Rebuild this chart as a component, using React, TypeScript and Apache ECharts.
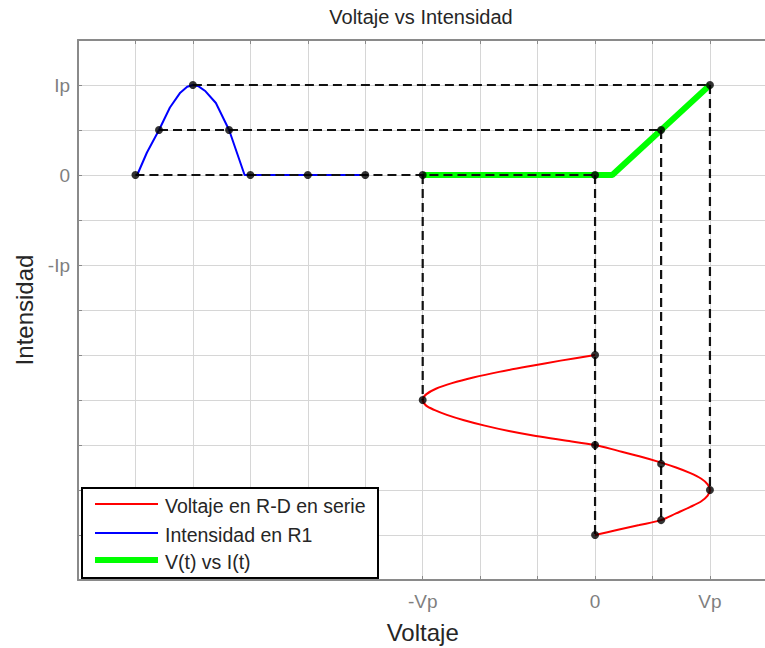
import React, { useEffect, useRef } from "react";
import * as echarts from "echarts";

const titleText = "Voltaje vs Intensidad";
const xAxisName = "Voltaje";
const yAxisName = "Intensidad";

const xTickPos = [6, 9, 11];
const xTickText = ["-Vp", "0", "Vp"];
const yTickPos = [7, 9, 11];
const yTickText = ["-Ip", "0", "Ip"];

// Red: Voltaje en R-D en serie (time runs downward)
const redX = [9, 8.4, 7.85, 7.33, 6.88, 6.51, 6.23, 6.06, 6.0, 6.06, 6.2, 6.42, 6.72, 7.08, 7.5, 7.97, 8.48, 9.0, 9.39, 9.77, 10.11, 10.41, 10.66, 10.85, 10.96, 11.0, 10.96, 10.85, 10.66, 10.41, 10.15, 9.77, 9.38, 9.0];
const redY = [5, 4.875, 4.75, 4.625, 4.5, 4.375, 4.25, 4.125, 4.0, 3.875, 3.78, 3.67, 3.55, 3.43, 3.31, 3.2, 3.1, 3.0, 2.875, 2.75, 2.625, 2.5, 2.375, 2.25, 2.125, 2.0, 1.875, 1.75, 1.625, 1.48, 1.33, 1.22, 1.11, 1.0];

// Blue: Intensidad en R1
const blueX = [1.03, 1.2, 1.41, 1.6, 1.78, 1.9, 2.0, 2.1, 2.22, 2.4, 2.63, 2.9, 3, 4, 5];
const blueY = [9, 9.5, 10, 10.5, 10.83, 10.96, 11, 10.97, 10.86, 10.6, 10, 9, 9, 9, 9];

// Green: V(t) vs I(t)
const greenX = [6, 9.3, 11];
const greenY = [9, 9, 11];

// Dashed guide segments [x1, y1, x2, y2]
const guideSegments = [
  [2, 11, 11, 11],
  [1.41, 10, 10.15, 10],
  [1, 9, 9, 9],
  [6, 9, 6, 4],
  [9, 9, 9, 1],
  [10.15, 10, 10.15, 1.33],
  [11, 11, 11, 2],
];

// Black markers
const dotX = [1, 1.41, 2, 2.63, 3, 4, 5, 6, 9, 10.15, 11, 9, 6, 9, 10.15, 11, 10.15, 9];
const dotY = [9, 10, 11, 10, 9, 9, 9, 9, 9, 10, 11, 5, 4, 3, 2.58, 2, 1.33, 1];

const legendNames = ["Voltaje en R-D en serie", "Intensidad en R1", "V(t) vs I(t)"];
const legendColors = ["#ff0000", "#0000ff", "#00ff00"];
const legendLineWidths = [2, 2, 6];

const zip = (xs: number[], ys: number[]) => xs.map((x, i) => [x, ys[i]]);

export default function App() {
  const ref = useRef<HTMLDivElement>(null);
  useEffect(() => {
    if (!ref.current) return;
    const chart = echarts.init(ref.current, undefined, { renderer: "svg" });
    const font = "'Liberation Sans', Arial, sans-serif";
    const gridLeft = 78, gridTop = 40, gridW = 689.4, gridH = 540;

    const xFmt = (v: number) => {
      const i = xTickPos.indexOf(Math.round(v));
      return i >= 0 && Math.abs(v - xTickPos[i]) < 1e-6 ? xTickText[i] : "";
    };
    const yFmt = (v: number) => {
      const i = yTickPos.indexOf(Math.round(v));
      return i >= 0 && Math.abs(v - yTickPos[i]) < 1e-6 ? yTickText[i] : "";
    };

    const axisLineStyle = { color: "#8a8a8a", width: 2 };
    const tickStyle = { show: true, inside: true, length: 4, lineStyle: { color: "#8a8a8a", width: 1 } };
    const splitStyle = { show: true, lineStyle: { color: "#d6d6d6", width: 1 } };

    const series: any[] = [
      { type: "line", data: zip(redX, redY), showSymbol: false, smooth: 0.3, lineStyle: { color: "#ff0000", width: 2 }, z: 2 },
      { type: "line", data: zip(blueX, blueY), showSymbol: false, lineStyle: { color: "#0000ff", width: 2 }, z: 2 },
      { type: "line", data: zip(greenX, greenY), showSymbol: false, lineStyle: { color: "#00ff00", width: 6 }, z: 3 },
    ];
    guideSegments.forEach((s) => {
      series.push({
        type: "line",
        data: [[s[0], s[1]], [s[2], s[3]]],
        showSymbol: false,
        lineStyle: { color: "#111111", width: 2.2, type: [9, 5] },
        z: 4,
      });
    });
    series.push({
      type: "scatter",
      data: zip(dotX, dotY),
      symbolSize: 8,
      itemStyle: { color: "#000000" },
      z: 5,
    });

    const legendGraphics: any[] = [
      {
        type: "rect",
        shape: { x: 82, y: 488, width: 296, height: 90 },
        style: { fill: "#ffffff", stroke: "#000000", lineWidth: 2 },
        z: 100,
      },
    ];
    legendNames.forEach((name, i) => {
      const ly = [504, 533, 560][i];
      legendGraphics.push({
        type: "line",
        shape: { x1: 95, y1: ly, x2: 158, y2: ly },
        style: { stroke: legendColors[i], lineWidth: legendLineWidths[i] },
        z: 101,
      });
      legendGraphics.push({
        type: "text",
        x: 165,
        y: ly + 2,
        style: { text: name, fill: "#262626", font: `19.5px ${font}`, verticalAlign: "middle", textAlign: "left" },
        z: 101,
      });
    });

    chart.setOption({
      animation: false,
      grid: { left: gridLeft, top: gridTop, width: gridW, height: gridH, outerBoundsMode: "none", containLabel: false },
      xAxis: [
        {
          type: "value",
          min: 0,
          max: 12,
          interval: 1,
          position: "bottom",
          name: xAxisName,
          nameLocation: "middle",
          nameGap: 40,
          nameTextStyle: { fontFamily: font, fontSize: 24, color: "#262626" },
          axisLine: { show: true, onZero: false, lineStyle: axisLineStyle },
          axisTick: tickStyle,
          axisLabel: { formatter: xFmt, fontFamily: font, fontSize: 19, color: "#7f7f7f", margin: 12 },
          splitLine: splitStyle,
        },
        {
          type: "value",
          min: 0,
          max: 12,
          interval: 1,
          position: "top",
          axisLine: { show: true, onZero: false, lineStyle: axisLineStyle },
          axisTick: tickStyle,
          axisLabel: { show: false },
          splitLine: { show: false },
        },
      ],
      yAxis: {
        type: "value",
        min: 0,
        max: 12,
        interval: 1,
        name: yAxisName,
        nameLocation: "middle",
        nameGap: 33,
        nameTextStyle: { fontFamily: font, fontSize: 24, color: "#262626" },
        axisLine: { show: true, onZero: false, lineStyle: axisLineStyle },
        axisTick: tickStyle,
        axisLabel: { formatter: yFmt, fontFamily: font, fontSize: 19, color: "#7f7f7f", margin: 8 },
        splitLine: splitStyle,
      },
      series,
      graphic: [
        {
          type: "text",
          x: 421,
          y: 17,
          style: { text: titleText, fill: "#262626", font: `20px ${font}`, textAlign: "center", verticalAlign: "middle" },
        },
        ...legendGraphics,
      ],
    });
    return () => chart.dispose();
  }, []);
  return <div ref={ref} style={{ position: "fixed", left: 0, top: 0, width: 765, height: 648, background: "#fff" }} />;
}
